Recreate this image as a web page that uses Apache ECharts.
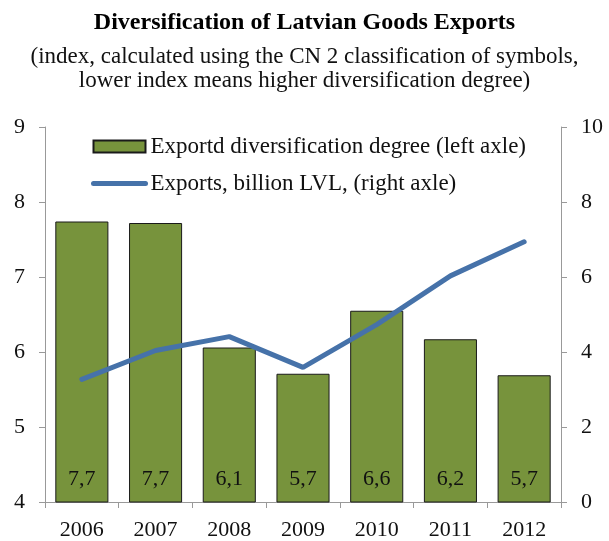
<!DOCTYPE html>
<html><head><meta charset="utf-8">
<script src="https://cdn.jsdelivr.net/npm/echarts@6/dist/echarts.min.js"></script>
<style>html,body{margin:0;padding:0;background:#fff}#c{width:609px;height:541px}</style>
</head><body><div id="c"></div>
<script>
var years = ['2006','2007','2008','2009','2010','2011','2012'];
var diversification = [7.74, 7.72, 6.06, 5.71, 6.55, 6.17, 5.69];
var diversificationLabels = ['7,7','7,7','6,1','5,7','6,6','6,2','5,7'];
var exportsBn = [3.27, 4.04, 4.41, 3.59, 4.73, 6.03, 6.94];
var leftTicks = [4,5,6,7,8,9];
var rightTicks = [0,2,4,6,8,10];

var FONT = '"Liberation Serif", "DejaVu Serif", serif';
var BAR_NAME = 'Exportd diversification degree (left axle)';
var LINE_NAME = 'Exports, billion LVL, (right axle)';
var chart = echarts.init(document.getElementById('c'), null, {renderer:'canvas'});
chart.setOption({
  backgroundColor:'#fff',
  animation:false,
  title:{
    text:'Diversification of Latvian Goods Exports',
    subtext:'(index, calculated using the CN 2 classification of symbols,\nlower index means higher diversification degree)',
    left:'center', top:4, itemGap:8,
    textStyle:{fontFamily:FONT, fontWeight:'bold', fontSize:24, color:'#000', lineHeight:28},
    subtextStyle:{fontFamily:FONT, fontSize:23, color:'#111', lineHeight:24}
  },
  legend:{
    orient:'vertical', left:86, top:130, itemWidth:52, itemHeight:12, itemGap:14,
    textStyle:{fontFamily:FONT, fontSize:23, color:'#111'},
    data:[{name:BAR_NAME, icon:'rect'},
          {name:LINE_NAME, itemStyle:{color:'rgba(0,0,0,0)', borderColor:'rgba(0,0,0,0)', borderWidth:0},
           lineStyle:{width:5, color:'#4672A9', cap:'round'}}]
  },
  grid:{left:45, right:48, top:127, bottom:37},
  xAxis:{
    type:'category', data:years,
    axisLine:{lineStyle:{color:'#999'}},
    axisTick:{show:true, length:6, lineStyle:{color:'#999'}},
    axisLabel:{fontFamily:FONT, fontSize:22, color:'#111', margin:17}
  },
  yAxis:[
    {type:'value', min:leftTicks[0], max:leftTicks[leftTicks.length-1], interval:1, position:'left',
     axisLine:{show:true, lineStyle:{color:'#999'}},
     axisTick:{show:true, length:6, lineStyle:{color:'#999'}},
     splitLine:{show:false},
     axisLabel:{fontFamily:FONT, fontSize:22, color:'#111', margin:20}},
    {type:'value', min:rightTicks[0], max:rightTicks[rightTicks.length-1], interval:2, position:'right',
     axisLine:{show:true, lineStyle:{color:'#999'}},
     axisTick:{show:true, length:6, lineStyle:{color:'#999'}},
     splitLine:{show:false},
     axisLabel:{fontFamily:FONT, fontSize:22, color:'#111', margin:20}}
  ],
  series:[
    {name:BAR_NAME, type:'bar', yAxisIndex:0,
     data:diversification, barCategoryGap:'28%',
     itemStyle:{color:'#77933C', borderColor:'#1a1a1a', borderWidth:1},
     label:{show:true, position:'insideBottom', distance:12,
       fontFamily:FONT, fontSize:22, color:'#111',
       formatter:function(p){return diversificationLabels[p.dataIndex];}}},
    {name:LINE_NAME, type:'line', yAxisIndex:1,
     data:exportsBn, symbol:'none', lineStyle:{color:'#4672A9', width:5, cap:'round'},
     itemStyle:{color:'#4672A9'}}
  ]
});
</script></body></html>
